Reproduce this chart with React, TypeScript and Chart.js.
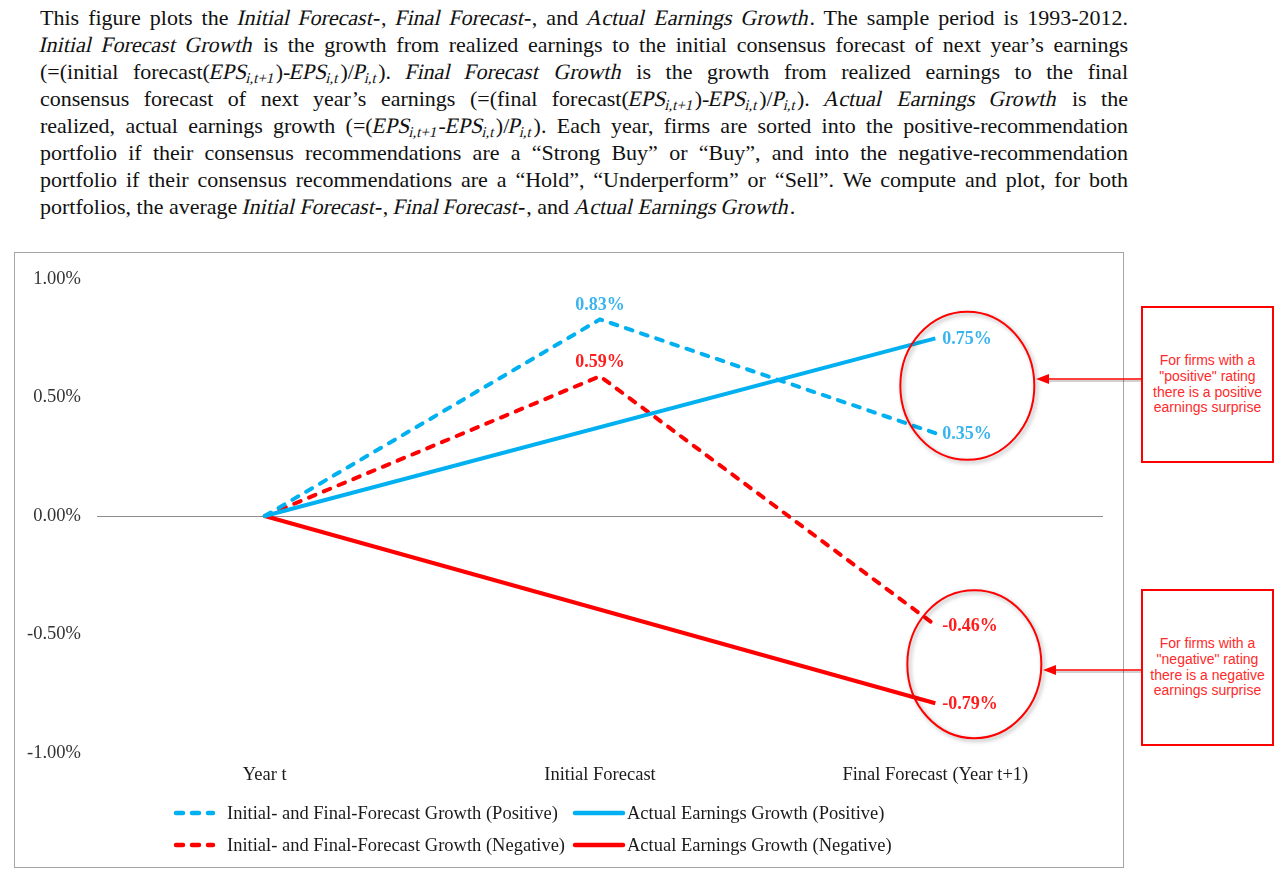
import React, { useEffect, useRef } from "react";
import { Chart, registerables } from "chart.js";

Chart.register(...registerables);

// ---------- data ----------
const categories = ["Year t", "Initial Forecast", "Final Forecast (Year t+1)"];
const forecastPositive = [0, 0.83, 0.35];
const actualPositive = [0, null, 0.75];
const forecastNegative = [0, 0.59, -0.46];
const actualNegative = [0, null, -0.79];
const yTickValues = [-1, -0.5, 0, 0.5, 1];
const seriesNames = [
  "Initial- and Final-Forecast Growth (Positive)",
  "Actual Earnings Growth (Positive)",
  "Initial- and Final-Forecast Growth (Negative)",
  "Actual Earnings Growth (Negative)",
];
// where each value label sits ("top", "right" or none)
const labelsForecastPositive = [null, "top", "right"];
const labelsActualPositive = [null, null, "right"];
const labelsForecastNegative = [null, "top", "right"];
const labelsActualNegative = [null, null, "right"];
const noteTexts = [
  ["For firms with a", "\"positive\" rating", "there is a positive", "earnings surprise"],
  ["For firms with a", "\"negative\" rating", "there is a negative", "earnings surprise"],
];

const BLUE = "#00B0F0";
const RED = "#FF0000";
const BLUE_TXT = "#3AB4EE";
const RED_TXT = "#FF1E1E";

const fmt = (v: number) => v.toFixed(2) + "%";

const valueLabelPlugin = {
  id: "valueLabels",
  afterDatasetsDraw(chart: any) {
    const ctx = chart.ctx;
    chart.data.datasets.forEach((ds: any, di: number) => {
      const meta = chart.getDatasetMeta(di);
      meta.data.forEach((pt: any, i: number) => {
        const v = ds.data[i];
        const p = ds.labelPos ? ds.labelPos[i] : null;
        if (v == null || !p) return;
        ctx.save();
        ctx.font = "bold 18px 'Liberation Serif'";
        ctx.fillStyle = ds.labelColor;
        if (p === "top") {
          ctx.textAlign = "center";
          ctx.textBaseline = "bottom";
          ctx.fillText(fmt(v), pt.x, pt.y - 5);
        } else {
          ctx.textAlign = "left";
          ctx.textBaseline = "middle";
          ctx.fillText(fmt(v), pt.x + 7, pt.y + 1);
        }
        ctx.restore();
      });
    });
  },
};

// red ellipses round the final-forecast values of each portfolio
const ellipsePlugin = {
  id: "ellipses",
  afterDatasetsDraw(chart: any) {
    const ctx = chart.ctx;
    const xs = chart.scales.x;
    const ys = chart.scales.y;
    const groups = [
      { a: forecastPositive[2], b: actualPositive[2], dx: 32 },
      { a: forecastNegative[2], b: actualNegative[2], dx: 39 },
    ];
    groups.forEach((g) => {
      const cx = xs.getPixelForValue(2) + g.dx;
      const cy = (ys.getPixelForValue(g.a as number) + ys.getPixelForValue(g.b as number)) / 2;
      ctx.save();
      ctx.shadowColor = "rgba(0,0,0,0.35)";
      ctx.shadowBlur = 4;
      ctx.shadowOffsetX = 2;
      ctx.shadowOffsetY = 2;
      ctx.strokeStyle = RED;
      ctx.lineWidth = 2;
      ctx.beginPath();
      ctx.ellipse(cx, cy, 67, 74, 0, 0, Math.PI * 2);
      ctx.stroke();
      ctx.restore();
    });
  },
};

function ChartBox() {
  const ref = useRef<HTMLCanvasElement | null>(null);
  useEffect(() => {
    if (!ref.current) return;
    const common = { pointRadius: 0, pointHoverRadius: 0, borderWidth: 4, spanGaps: true, tension: 0, fill: false };
    const chart = new Chart(ref.current, {
      type: "line",
      data: {
        labels: categories,
        datasets: [
          { ...common, label: seriesNames[0], data: forecastPositive, borderColor: BLUE, borderDash: [7, 9], borderCapStyle: "round", labelPos: labelsForecastPositive, labelColor: BLUE_TXT } as any,
          { ...common, label: seriesNames[1], data: actualPositive, borderColor: BLUE, borderCapStyle: "butt", labelPos: labelsActualPositive, labelColor: BLUE_TXT } as any,
          { ...common, label: seriesNames[2], data: forecastNegative, borderColor: RED, borderDash: [7, 9], borderCapStyle: "round", labelPos: labelsForecastNegative, labelColor: RED_TXT } as any,
          { ...common, label: seriesNames[3], data: actualNegative, borderColor: RED, borderCapStyle: "butt", labelPos: labelsActualNegative, labelColor: RED_TXT } as any,
        ],
      },
      options: {
        animation: false,
        responsive: true,
        maintainAspectRatio: false,
        layout: { padding: { left: 0, right: 21, top: 21, bottom: 80 } },
        plugins: { legend: { display: false }, tooltip: { enabled: false } },
        events: [],
        scales: {
          x: {
            type: "category",
            offset: true,
            grid: { display: false, drawTicks: false },
            border: { display: false },
            ticks: {
              maxRotation: 0,
              autoSkip: false,
              padding: 11,
              color: "#1a1a1a",
              font: { family: "'Liberation Serif'", size: 18.5 },
            },
            afterFit: (s: any) => {
              s.height = 35;
            },
          },
          y: {
            min: -1,
            max: 1,
            afterBuildTicks: (s: any) => {
              s.ticks = yTickValues.map((v) => ({ value: v }));
            },
            grid: {
              drawTicks: false,
              color: (c: any) => (c.tick && c.tick.value === 0 ? "#8c8c8c" : "rgba(0,0,0,0)"),
              lineWidth: 1,
            },
            border: { display: false },
            ticks: {
              padding: 16,
              color: "#333333",
              font: { family: "'Liberation Serif'", size: 18.5 },
              callback: (v: any) => fmt(Number(v)),
            },
            afterFit: (s: any) => {
              s.width = 83;
            },
          },
        },
      },
      plugins: [ellipsePlugin, valueLabelPlugin],
    });
    return () => chart.destroy();
  }, []);
  return (
    <div style={{ position: "absolute", left: 14, top: 252, width: 1110, height: 616 }}>
      <canvas ref={ref} />
    </div>
  );
}

function LegendSample({ color, dashed, x, y, w }: { color: string; dashed: boolean; x: number; y: number; w: number }) {
  return (
    <svg style={{ position: "absolute", left: x, top: y - 4, width: w, height: 8, overflow: "visible" }}>
      <line
        x1={dashed ? 3 : 0}
        y1={4}
        x2={dashed ? w - 3 : w}
        y2={4}
        stroke={color}
        strokeWidth={4.5}
        strokeDasharray={dashed ? "7 9" : undefined}
        strokeLinecap={dashed ? "round" : "round"}
      />
    </svg>
  );
}

const legendFont: React.CSSProperties = {
  position: "absolute",
  fontFamily: "'Liberation Serif'",
  fontSize: 18.5,
  color: "#1a1a1a",
  whiteSpace: "nowrap",
  lineHeight: "22px",
};

function Legend() {
  const rows = [813, 845];
  return (
    <>
      <LegendSample color={BLUE} dashed x={173} y={rows[0]} w={43} />
      <div style={{ ...legendFont, left: 227, top: rows[0] - 11 }}>{seriesNames[0]}</div>
      <LegendSample color={BLUE} dashed={false} x={575} y={rows[0]} w={48} />
      <div style={{ ...legendFont, left: 627, top: rows[0] - 11 }}>{seriesNames[1]}</div>
      <LegendSample color={RED} dashed x={173} y={rows[1]} w={43} />
      <div style={{ ...legendFont, left: 227, top: rows[1] - 11 }}>{seriesNames[2]}</div>
      <LegendSample color={RED} dashed={false} x={575} y={rows[1]} w={48} />
      <div style={{ ...legendFont, left: 627, top: rows[1] - 11 }}>{seriesNames[3]}</div>
    </>
  );
}

function Note({ top, lines }: { top: number; lines: string[] }) {
  return (
    <div
      style={{
        position: "absolute",
        left: 1141,
        top,
        width: 133,
        height: 157,
        boxSizing: "border-box",
        border: "2px solid #FF0000",
        background: "#fff",
        display: "flex",
        flexDirection: "column",
        justifyContent: "center",
        alignItems: "center",
        fontFamily: "'Liberation Sans', Arial, sans-serif",
        fontSize: 14,
        lineHeight: "15.7px",
        color: "#FF2A2A",
        textAlign: "center",
      }}
    >
      {lines.map((l, i) => (
        <div key={i}>{l}</div>
      ))}
    </div>
  );
}

function Arrows() {
  const arrow = (y: number, x1: number, x2: number) => (
    <g>
      <line x1={x1} y1={y + 2} x2={x2 + 10} y2={y + 2} stroke="rgba(0,0,0,0.18)" strokeWidth={2} />
      <line x1={x1} y1={y} x2={x2 + 10} y2={y} stroke={RED} strokeWidth={1.6} />
      <polygon points={`${x2},${y} ${x2 + 13},${y - 5} ${x2 + 13},${y + 5}`} fill={RED} />
    </g>
  );
  return (
    <svg style={{ position: "absolute", left: 0, top: 0, width: 1288, height: 879, pointerEvents: "none" }}>
      {arrow(379, 1141, 1036)}
      {arrow(670, 1141, 1043)}
    </svg>
  );
}

// subscript
const S = ({ children }: { children: React.ReactNode }) => (
  <sub style={{ fontSize: "0.68em", verticalAlign: "-0.25em", lineHeight: 0 }}>{children}</sub>
);
// slanted single word (serif italic drawn as a slanted roman)
const Sk = ({ children }: { children: React.ReactNode }) => (
  <span style={{ display: "inline-block", transform: "skewX(-13deg)", fontStyle: "normal" }}>{children}</span>
);
// slanted phrase: each word slanted, spaces left free for justification
const I = ({ t }: { t: string }) => (
  <>
    {t.split(" ").map((w, i, arr) => (
      <React.Fragment key={i}>
        <Sk>{w}</Sk>
        {i < arr.length - 1 ? " " : ""}
      </React.Fragment>
    ))}
  </>
);

function Paragraph() {
  const lineStyle = (last: boolean): React.CSSProperties => ({
    height: 27,
    lineHeight: "27px",
    textAlign: last ? "left" : "justify",
    textAlignLast: last ? "left" : "justify",
    overflow: "visible",
  } as any);
  const lines: React.ReactNode[] = [
    <>This figure plots the <I t="Initial Forecast-" />, <I t="Final Forecast-" />, and <I t="Actual Earnings Growth" />. The sample period is 1993-2012.</>,
    <><I t="Initial Forecast Growth" /> is the growth from realized earnings to the initial consensus forecast of next year’s earnings</>,
    <>(=(initial forecast(<Sk>EPS<S>i,t+1</S></Sk>)-<Sk>EPS<S>i,t</S></Sk>)/<Sk>P<S>i,t</S></Sk>). <I t="Final Forecast Growth" /> is the growth from realized earnings to the final</>,
    <>consensus forecast of next year’s earnings (=(final forecast(<Sk>EPS<S>i,t+1</S></Sk>)-<Sk>EPS<S>i,t</S></Sk>)/<Sk>P<S>i,t</S></Sk>). <I t="Actual Earnings Growth" /> is the</>,
    <>realized, actual earnings growth (=(<Sk>EPS<S>i,t+1</S></Sk>-<Sk>EPS<S>i,t</S></Sk>)/<Sk>P<S>i,t</S></Sk>). Each year, firms are sorted into the positive-recommendation</>,
    <>portfolio if their consensus recommendations are a “Strong Buy” or “Buy”, and into the negative-recommendation</>,
    <>portfolio if their consensus recommendations are a “Hold”, “Underperform” or “Sell”. We compute and plot, for both</>,
    <>portfolios, the average <I t="Initial Forecast-" />, <I t="Final Forecast-" />, and <I t="Actual Earnings Growth" />.</>,
  ];
  return (
    <div
      style={{
        position: "absolute",
        left: 40,
        top: 4,
        width: 1088,
        fontFamily: "'Liberation Serif', 'Times New Roman', serif",
        fontSize: 22,
        color: "#111",
      }}
    >
      {lines.map((l, i) => (
        <div key={i} style={lineStyle(i === lines.length - 1)}>
          {l}
        </div>
      ))}
    </div>
  );
}

export default function App() {
  return (
    <div style={{ position: "absolute", left: 0, top: 0, width: 1288, height: 879, background: "#fff", overflow: "hidden" }}>
      <Paragraph />
      <ChartBox />
      <div
        style={{
          position: "absolute",
          left: 14,
          top: 252,
          width: 1110,
          height: 616,
          boxSizing: "border-box",
          border: "1px solid #a6a6a6",
          pointerEvents: "none",
        }}
      />
      <Legend />
      <Arrows />
      <Note top={306} lines={noteTexts[0]} />
      <Note top={589} lines={noteTexts[1]} />
    </div>
  );
}
